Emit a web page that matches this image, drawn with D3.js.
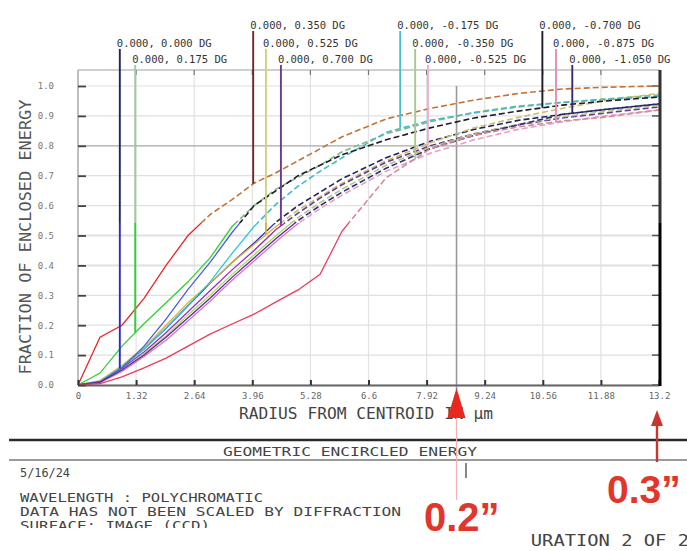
<!DOCTYPE html>
<html><head><meta charset="utf-8">
<script src="https://cdn.jsdelivr.net/npm/d3@7"></script>
<style>body{margin:0;background:#fff}svg{display:block}</style>
</head><body>
<svg id="c" width="687" height="551"></svg>
<script>
// ---------- data ----------
const radii = [0,0.5,1.0,1.5,2.0,2.5,3.0,3.5,4.0,4.5,5.0,5.5,6.0,7.0,8.0,9.0,10.0,11.0,12.0,13.2];
const xTickValues = [0,1.32,2.64,3.96,5.28,6.6,7.92,9.24,10.56,11.88,13.2];
const xTickLabels = ["0","1.32","2.64","3.96","5.28","6.6","7.92","9.24","10.56","11.88","13.2"];
const yTickValues = [0,0.1,0.2,0.3,0.4,0.5,0.6,0.7,0.8,0.9,1.0];
const yTickLabels = ["0.0","0.1","0.2","0.3","0.4","0.5","0.6","0.7","0.8","0.9","1.0"];

const fieldNames = ["0.000, 0.000 DG","0.000, 0.175 DG","0.000, 0.350 DG","0.000, 0.525 DG",
  "0.000, 0.700 DG","0.000, -0.175 DG","0.000, -0.525 DG","0.000, -0.350 DG",
  "0.000, -0.700 DG","0.000, -1.050 DG","0.000, -0.875 DG"];

const ee0  = [0,0.012,0.06,0.12,0.19,0.265,0.34,0.41,0.475,0.545,0.60,0.645,0.69,0.76,0.815,0.855,0.885,0.905,0.922,0.94];
const ee1  = [0,0.04,0.13,0.205,0.275,0.345,0.425,0.53,0.60,0.655,0.695,0.735,0.78,0.84,0.88,0.912,0.933,0.945,0.957,0.97];
const ee2  = [0,0.16,0.20,0.29,0.40,0.50,0.57,0.62,0.675,0.71,0.75,0.79,0.83,0.89,0.925,0.953,0.975,0.99,0.996,1.0];
const ee3  = [0,0.015,0.065,0.125,0.20,0.275,0.34,0.41,0.47,0.53,0.585,0.63,0.675,0.75,0.81,0.86,0.895,0.925,0.952,0.975];
const ee4  = [0,0.01,0.055,0.11,0.175,0.245,0.315,0.385,0.45,0.52,0.575,0.625,0.67,0.745,0.80,0.84,0.87,0.893,0.91,0.93];
const ee5  = [0,0.012,0.06,0.12,0.19,0.265,0.345,0.44,0.53,0.605,0.665,0.715,0.76,0.845,0.885,0.91,0.93,0.945,0.955,0.965];
const ee6  = [0,0.01,0.05,0.105,0.165,0.235,0.30,0.37,0.435,0.50,0.56,0.61,0.655,0.735,0.795,0.84,0.872,0.897,0.915,0.935];
const ee7  = [0,0.008,0.045,0.095,0.15,0.215,0.28,0.35,0.415,0.48,0.54,0.59,0.635,0.715,0.775,0.82,0.855,0.88,0.90,0.92];
const ee8  = [0,0.01,0.057,0.13,0.22,0.32,0.41,0.51,0.60,0.65,0.70,0.735,0.77,0.82,0.86,0.893,0.916,0.936,0.95,0.963];
const ee9  = [0,0.01,0.05,0.10,0.16,0.225,0.29,0.36,0.425,0.49,0.55,0.60,0.645,0.725,0.79,0.835,0.87,0.905,0.922,0.94];
const ee10 = [0,0.005,0.027,0.057,0.09,0.13,0.17,0.204,0.237,0.278,0.318,0.37,0.515,0.693,0.79,0.836,0.863,0.883,0.896,0.92];
const seriesValues = [ee0,ee1,ee2,ee3,ee4,ee5,ee6,ee7,ee8,ee9,ee10];

const lowerColors = ["#2a2ad0","#30d030","#e62828","#d8b428","#9a2ad8","#28c8e0","#a8dc5a","#e070c8","#4c5ce8","#5a2aa0","#ec3c5c"];
const upperColors = ["#23235e","#86b886","#c27438","#c8c070","#6a3a8c","#48b8c8","#a8c890","#e0a0c8","#1e1e2a","#3a2a6a","#d88898"];
const upperLeaderColors = ["#23235e","#9ccc9c","#6e2a26","#d0d080","#6a3a8c","#48c0d0","#a8c890","#e8b0d0","#1e1e2a","#e090b0","#3a2a6a"];

// callouts: series index, radius where leader meets curve, label row
const calloutSeries = [0,1,2,3,4,5,7,6,8,10,9];
const calloutRadius = [0.95,1.30,3.98,4.27,4.61,7.32,7.66,7.95,10.55,10.86,11.23];
const calloutRow    = [1,2,0,1,2,0,1,2,0,1,2];

const markerRadius02 = 8.6;   // 0.2" annotation
const markerRadius03 = 13.2;  // 0.3" annotation

// ---------- drawing ----------
const svg = d3.select("#c");
const x = d3.scaleLinear().domain([0,13.2]).range([78,659]);
const y = d3.scaleLinear().domain([0,1]).range([385,86]);
const frameTop = 70, splitY = 223;
const rowBase = [29,47,63];
const mono = "'DejaVu Sans Mono', 'Liberation Mono', monospace";

const defs = svg.append("defs");
defs.append("clipPath").attr("id","upper").append("rect").attr("x",0).attr("y",0).attr("width",687).attr("height",splitY);
defs.append("clipPath").attr("id","lower").append("rect").attr("x",0).attr("y",splitY).attr("width",687).attr("height",551-splitY);
defs.append("clipPath").attr("id","foot").append("rect").attr("x",0).attr("y",0).attr("width",687).attr("height",528);
defs.append("clipPath").attr("id","conf").append("rect").attr("x",531).attr("y",0).attr("width",200).attr("height",551);

// grid
const grid = svg.append("g");
grid.selectAll("line.vx").data(xTickValues).join("line")
  .attr("x1",d=>x(d)).attr("x2",d=>x(d)).attr("y1",frameTop).attr("y2",385)
  .attr("stroke","#e2e2e2").attr("stroke-width",1.2);
grid.selectAll("line.hy").data(yTickValues).join("line")
  .attr("x1",78).attr("x2",659).attr("y1",d=>y(d)).attr("y2",d=>y(d))
  .attr("stroke",d=>Math.abs(d-0.8)<1e-6?"#a8a8a8":"#e0e0e0")
  .attr("stroke-width",d=>(Math.abs(d-0.4)<1e-6||Math.abs(d-0.5)<1e-6)?2:1.2);

// frame
svg.append("line").attr("x1",78).attr("x2",660).attr("y1",frameTop).attr("y2",frameTop).attr("stroke","#a0a0a0").attr("stroke-width",1.2);
svg.append("line").attr("x1",78).attr("x2",78).attr("y1",frameTop).attr("y2",385).attr("stroke","#a0a0a0").attr("stroke-width",1.2);
svg.selectAll("line.tt").data(xTickValues.slice(1,-1)).join("line")
  .attr("x1",d=>x(d)).attr("x2",d=>x(d)).attr("y1",frameTop).attr("y2",frameTop+5)
  .attr("stroke","#777").attr("stroke-width",1.2);
svg.selectAll("line.rt").data(yTickValues).join("line")
  .attr("x1",652).attr("x2",660).attr("y1",d=>y(d)).attr("y2",d=>y(d))
  .attr("stroke","#555").attr("stroke-width",1.5);

// 0.2" marker line
svg.append("line").attr("x1",x(markerRadius02)).attr("x2",x(markerRadius02))
  .attr("y1",y(1.0)).attr("y2",390).attr("stroke","#9a9a9a").attr("stroke-width",1.6);

// curves
const line = d3.line().x((d,i)=>x(radii[i])).y(d=>y(d));
const gUp = svg.append("g").attr("clip-path","url(#upper)");
const gLo = svg.append("g").attr("clip-path","url(#lower)");
seriesValues.forEach((vals,k)=>{
  gLo.append("path").attr("d",line(vals)).attr("fill","none")
    .attr("stroke",lowerColors[k]).attr("stroke-width",1.3);
  gUp.append("path").attr("d",line(vals)).attr("fill","none")
    .attr("stroke",upperColors[k]).attr("stroke-width",1.6).attr("stroke-dasharray","6,3");
});

// callouts
function valueAt(arr,r){
  let i = Math.min(Math.max(d3.bisectRight(radii,r)-1,0),radii.length-2);
  const t = (r-radii[i])/(radii[i+1]-radii[i]);
  return arr[i]+t*(arr[i+1]-arr[i]);
}
calloutSeries.forEach((s,j)=>{
  const cx = x(calloutRadius[j]);
  const yb = rowBase[calloutRow[j]];
  const yEnd = y(valueAt(seriesValues[s],calloutRadius[j]));
  gUp.append("line").attr("x1",cx).attr("x2",cx).attr("y1",yb+2).attr("y2",yEnd)
    .attr("stroke",upperLeaderColors[j]).attr("stroke-width",1.9);
  gLo.append("line").attr("x1",cx).attr("x2",cx).attr("y1",yb+2).attr("y2",yEnd)
    .attr("stroke",lowerColors[s]).attr("stroke-width",1.9);
  svg.append("text").attr("x",cx-3).attr("y",yb).text(fieldNames[s])
    .attr("font-family",mono).attr("font-size",10.5).attr("fill","#333");
});

// axes
const xAxis = d3.axisBottom(x).tickValues(xTickValues)
  .tickFormat((d,i)=>xTickLabels[i]).tickSizeInner(-5).tickSizeOuter(0).tickPadding(8);
const gx = svg.append("g").attr("transform","translate(0,385)").call(xAxis);
gx.select(".domain").attr("stroke","#666").attr("stroke-width",2.2);
gx.selectAll(".tick line").attr("stroke","#333").attr("stroke-width",2);
gx.selectAll("text").attr("font-family",mono).attr("font-size",9).attr("fill","#666");

const yAxis = d3.axisLeft(y).tickValues(yTickValues)
  .tickFormat((d,i)=>yTickLabels[i]).tickSizeInner(-8).tickSizeOuter(0).tickPadding(24);
const gy = svg.append("g").attr("transform","translate(78,0)").call(yAxis);
gy.select(".domain").remove();
gy.selectAll(".tick line").attr("stroke","#444").attr("stroke-width",1.8);
gy.selectAll("text").attr("font-family",mono).attr("font-size",9).attr("fill","#777");

// right border
svg.append("line").attr("x1",660).attr("x2",660).attr("y1",frameTop).attr("y2",splitY)
  .attr("stroke","#333").attr("stroke-width",3);
svg.append("line").attr("x1",660).attr("x2",660).attr("y1",splitY).attr("y2",386)
  .attr("stroke","#000").attr("stroke-width",3);

// axis titles
svg.append("text").attr("transform","translate(31,237) rotate(-90)")
  .attr("text-anchor","middle").attr("font-family",mono).attr("font-size",15)
  .attr("fill","#555").attr("textLength",275).attr("lengthAdjust","spacingAndGlyphs")
  .text("FRACTION OF ENCLOSED ENERGY");
svg.append("text").attr("x",239).attr("y",419).attr("font-family",mono).attr("font-size",15)
  .attr("fill","#444").attr("textLength",254).attr("lengthAdjust","spacingAndGlyphs")
  .text("RADIUS FROM CENTROID IN \u00B5m");

// footer
svg.append("line").attr("x1",9).attr("x2",687).attr("y1",440).attr("y2",440).attr("stroke","#2a2a2a").attr("stroke-width",2.6);
svg.append("line").attr("x1",9).attr("x2",687).attr("y1",460).attr("y2",460).attr("stroke","#777").attr("stroke-width",1.6);
svg.append("text").attr("x",223).attr("y",456).attr("font-family",mono).attr("font-size",13)
  .attr("fill","#444").attr("textLength",254).attr("lengthAdjust","spacingAndGlyphs")
  .text("GEOMETRIC ENCIRCLED ENERGY");
const foot = svg.append("g").attr("clip-path","url(#foot)")
  .attr("font-family",mono).attr("font-size",12.5).attr("fill","#444");
foot.append("text").attr("x",20).attr("y",477).attr("textLength",50).attr("lengthAdjust","spacingAndGlyphs").text("5/16/24");
foot.append("text").attr("x",20).attr("y",502).attr("textLength",243).attr("lengthAdjust","spacingAndGlyphs").text("WAVELENGTH : POLYCHROMATIC");
foot.append("text").attr("x",20).attr("y",516).attr("textLength",381).attr("lengthAdjust","spacingAndGlyphs").text("DATA HAS NOT BEEN SCALED BY DIFFRACTION");
foot.append("text").attr("x",20).attr("y",530).attr("textLength",190).attr("lengthAdjust","spacingAndGlyphs").text("SURFACE: IMAGE (CCD)");
svg.append("g").attr("clip-path","url(#conf)").append("text")
  .attr("x",463).attr("y",546).attr("font-family",mono).attr("font-size",15).attr("fill","#444")
  .attr("textLength",226).attr("lengthAdjust","spacingAndGlyphs").text("CONFIGURATION 2 OF 2");

// red annotations
const m2 = x(markerRadius02);
svg.append("line").attr("x1",m2).attr("x2",m2).attr("y1",418).attr("y2",500).attr("stroke","#f2b0b0").attr("stroke-width",1.2);
svg.append("path").attr("d",`M${m2},388 L${m2-9},418 L${m2+9},418 Z`).attr("fill","#e8281e");
svg.append("line").attr("x1",466).attr("x2",466).attr("y1",463).attr("y2",478).attr("stroke","#555").attr("stroke-width",1.4);
svg.append("text").attr("x",424).attr("y",531).attr("font-family","'Liberation Sans', Arial, sans-serif")
  .attr("font-weight","bold").attr("font-size",40).attr("fill","#e2352b").text("0.2\u201D");
const m3 = x(markerRadius03)-2;
svg.append("line").attr("x1",m3).attr("x2",m3).attr("y1",462).attr("y2",424).attr("stroke","#c8362e").attr("stroke-width",2.4);
svg.append("path").attr("d",`M${m3},410 L${m3-6},426 L${m3+6},426 Z`).attr("fill","#c8362e");
svg.append("text").attr("x",607).attr("y",503).attr("font-family","'Liberation Sans', Arial, sans-serif")
  .attr("font-weight","bold").attr("font-size",39).attr("fill","#e2352b").text("0.3\u201D");
</script>
</body></html>
